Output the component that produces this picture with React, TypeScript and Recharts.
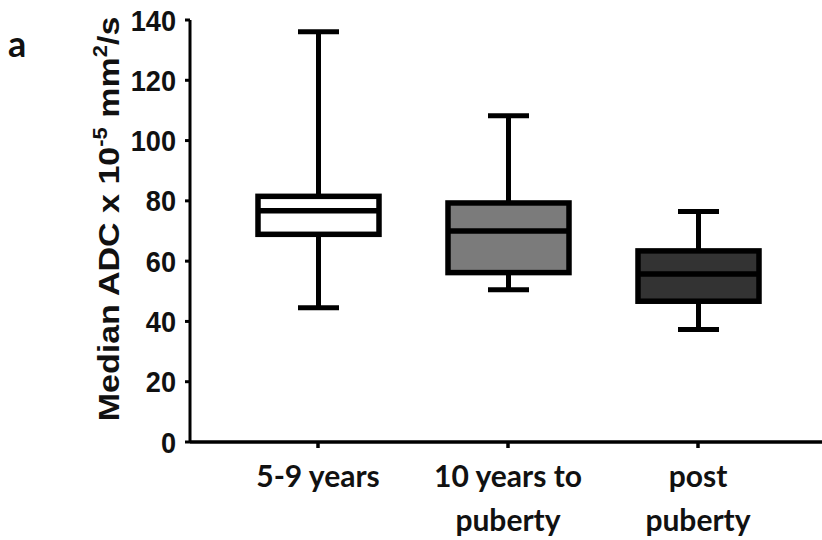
import { ComposedChart, Bar, XAxis, YAxis } from "recharts"

// box statistics per age group (ADC x 10^-5 mm2/s)
const groups = ["5-9 years", "10 years to puberty", "post puberty"]
const groupLines = [["5-9 years"], ["10 years to", "puberty"], ["post", "puberty"]]
const mins = [44.5, 50.5, 37.3]
const q1s = [68.9, 56.2, 46.7]
const medians = [76.7, 70, 55.7]
const q3s = [81.5, 79.3, 63.4]
const maxs = [136.1, 108.2, 76.5]
const fills = ["#ffffff", "#7b7b7b", "#333333"]
const yTicks = [0, 20, 40, 60, 80, 100, 120, 140]

const data = groups.map((name, i) => ({
  name,
  lines: groupLines[i],
  min: mins[i],
  q1: q1s[i],
  median: medians[i],
  q3: q3s[i],
  max: maxs[i],
  fill: fills[i],
}))

const BoxShape = (props: any) => {
  const { x, y, width, height, payload } = props
  const top = Math.min(y, y + height)
  const h = Math.abs(height)
  const { min, q1, median, q3, max, fill } = payload
  // map a value onto the pixel span of [min, max] that the bar scale gave us
  const py = (v: number) => top + ((max - v) / (max - min)) * h
  const cx = x + width / 2
  const cap = 20.5
  return (
    <g>
      <line x1={cx} x2={cx} y1={py(max)} y2={py(q3)} stroke="#000" strokeWidth={5} />
      <line x1={cx} x2={cx} y1={py(q1)} y2={py(min)} stroke="#000" strokeWidth={5} />
      <line x1={cx - cap} x2={cx + cap} y1={py(max)} y2={py(max)} stroke="#000" strokeWidth={5} />
      <line x1={cx - cap} x2={cx + cap} y1={py(min)} y2={py(min)} stroke="#000" strokeWidth={5} />
      <rect x={x} y={py(q3)} width={width} height={py(q1) - py(q3)} fill={fill} stroke="#000" strokeWidth={5.5} />
      <line x1={x} x2={x + width} y1={py(median)} y2={py(median)} stroke="#000" strokeWidth={5.5} />
    </g>
  )
}

const YTick = (props: any) => {
  const { x, y, payload } = props
  return (
    <g transform={`translate(${x},${y}) scale(0.92,1)`}>
      <text x={0} y={10.5} textAnchor="end" fontFamily="'Liberation Sans', Arial, sans-serif" fontWeight="bold" fontSize={29.5} fill="#111">
        {payload.value}
      </text>
    </g>
  )
}

const XTick = (props: any) => {
  const { x, y, index } = props
  const lines = groupLines[index] || []
  return (
    <g>
      {lines.map((line, i) => (
        <text key={i} x={x} y={y + 37 + i * 44} textAnchor="middle" fontFamily="Lato, 'Open Sans', sans-serif" fontWeight={700} fontSize={30} fill="#111">
          {line}
        </text>
      ))}
    </g>
  )
}

const YTitle = (props: any) => {
  const { viewBox } = props
  const cx = 108
  const cy = viewBox.y + viewBox.height / 2 - 12
  return (
    <g transform={`translate(${cx},${cy}) rotate(-90) scale(1,0.88)`}>
      <text x={0} y={12} textAnchor="middle" fontFamily="'Liberation Sans', Arial, sans-serif" fontWeight="bold" fontSize={34} fill="#111">
        Median ADC x 10
        <tspan dy={-13} fontSize={22}>-5</tspan>
        <tspan dy={13}> mm</tspan>
        <tspan dy={-13} fontSize={22}>2</tspan>
        <tspan dy={13}>/s</tspan>
      </text>
    </g>
  )
}

export default function App() {
  return (
    <div style={{ position: "absolute", left: 0, top: 0, width: 822, height: 540, background: "#fff" }}>
      <svg width={60} height={70} style={{ position: "absolute", left: 0, top: 0 }}>
        <text x={8} y={57} fontFamily="Lato, sans-serif" fontWeight={700} fontSize={36} fill="#111">
          a
        </text>
      </svg>
      <ComposedChart width={822} height={540} data={data} margin={{ top: 20, right: 0, bottom: 0, left: 0 }}>
        <XAxis
          dataKey="name"
          height={98}
          padding={{ left: 33, right: 29 }}
          interval={0}
          tickSize={6}
          tickMargin={2}
          axisLine={{ stroke: "#000", strokeWidth: 3.5 }}
          tickLine={{ stroke: "#000", strokeWidth: 3.5 }}
          tick={<XTick />}
        />
        <YAxis
          type="number"
          domain={[0, 140]}
          ticks={yTicks}
          width={190}
          tickSize={5}
          tickMargin={9}
          axisLine={{ stroke: "#000", strokeWidth: 3 }}
          tickLine={{ stroke: "#000", strokeWidth: 3 }}
          tick={<YTick />}
          label={<YTitle />}
        />
        <Bar dataKey={(d: any) => [d.min, d.max]} barSize={121} shape={<BoxShape />} isAnimationActive={false} />
      </ComposedChart>
    </div>
  )
}
